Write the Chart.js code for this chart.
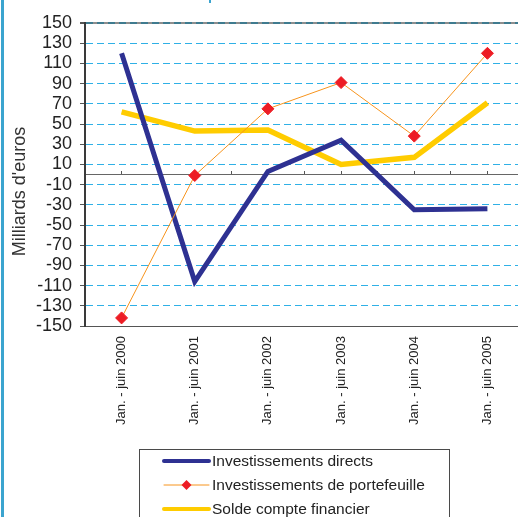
<!DOCTYPE html>
<html lang="fr">
<head>
<meta charset="utf-8">
<title>Investissements et solde du compte financier</title>
<script src="https://cdn.jsdelivr.net/npm/chart.js@4/dist/chart.umd.min.js"></script>
<style>
  html, body { margin: 0; padding: 0; background: #fff; overflow: hidden; }
  #wrap { position: relative; width: 518px; height: 517px; overflow: hidden; }
  #c { position: absolute; left: 0; top: 0; }
  .edge { position: absolute; left: 1px; top: 0; width: 3px; height: 517px; background: #3ba4cf; }
  .mark { position: absolute; left: 209px; top: 0; width: 2px; height: 3px; background: #3ba4cf; }
</style>
</head>
<body>
<div id="wrap">
  <canvas id="c" width="531" height="517"></canvas>
  <div class="edge"></div>
  <div class="mark"></div>
</div>
<script>
// Semesters shown on the horizontal axis
const categories = [
  'Jan. - juin 2000', 'Jan. - juin 2001', 'Jan. - juin 2002',
  'Jan. - juin 2003', 'Jan. - juin 2004', 'Jan. - juin 2005'
];

// Flows in billions of euros
const investissementsDirects = [120, -106, 3, 34, -35, -34];
const investissementsPortefeuille = [-142, -1, 65, 91, 38, 120];
const soldeCompteFinancier = [62, 43, 44, 10, 17, 71];

const seriesNames = [
  'Investissements directs',
  'Investissements de portefeuille',
  'Solde compte financier'
];

// Value axis range and tick step
const yMin = -150;
const yMax = 150;
const yStep = 20;
const yTitle = "Milliards d'euros";

const FONT = "'Liberation Sans', Arial, sans-serif";

// Solid grey rule along the top of the plot, under the dashed grid line
const topRule = {
  id: 'topRule',
  beforeDraw(chart) {
    const { ctx, chartArea } = chart;
    ctx.save();
    ctx.strokeStyle = '#8e8e8e';
    ctx.lineWidth = 2;
    ctx.beginPath();
    ctx.moveTo(chartArea.left, chartArea.top);
    ctx.lineTo(chartArea.right, chartArea.top);
    ctx.stroke();
    ctx.restore();
  }
};

// Rotated caption for the value axis
const valueCaption = {
  id: 'valueCaption',
  afterDraw(chart, args, opts) {
    const { ctx, chartArea } = chart;
    ctx.save();
    ctx.translate(opts.x, (chartArea.top + chartArea.bottom) / 2 + opts.shift);
    ctx.rotate(-Math.PI / 2);
    ctx.font = `18px ${FONT}`;
    ctx.fillStyle = '#333';
    ctx.textAlign = 'center';
    ctx.textBaseline = 'middle';
    ctx.fillText(opts.text, 0, 0);
    ctx.restore();
  }
};

// Framed legend listing the series one per row
const boxLegend = {
  id: 'boxLegend',
  afterDraw(chart, args, o) {
    const { ctx } = chart;
    ctx.save();
    ctx.strokeStyle = '#4a4a4a';
    ctx.lineWidth = 1;
    ctx.strokeRect(o.left + 0.5, o.top + 0.5, o.width, o.height);
    chart.data.datasets.forEach((ds, i) => {
      const y = o.firstRow + i * o.rowGap;
      ctx.strokeStyle = ds.borderColor;
      ctx.lineWidth = ds.legendWidth;
      ctx.lineCap = 'round';
      ctx.beginPath();
      ctx.moveTo(o.sampleFrom, y);
      ctx.lineTo(o.sampleTo, y);
      ctx.stroke();
      if (ds.pointRadius > 0) {
        const cx = (o.sampleFrom + o.sampleTo) / 2;
        const r = ds.pointRadius - 1;
        ctx.fillStyle = ds.pointBackgroundColor;
        ctx.beginPath();
        ctx.moveTo(cx, y - r);
        ctx.lineTo(cx + r, y);
        ctx.lineTo(cx, y + r);
        ctx.lineTo(cx - r, y);
        ctx.closePath();
        ctx.fill();
      }
      ctx.fillStyle = '#222';
      ctx.font = `15.5px ${FONT}`;
      ctx.textAlign = 'left';
      ctx.textBaseline = 'middle';
      ctx.fillText(ds.label, o.textX, y + 1);
    });
    ctx.restore();
  }
};

new Chart(document.getElementById('c'), {
  type: 'line',
  data: {
    labels: categories,
    datasets: [
      {
        label: seriesNames[0],
        data: investissementsDirects,
        borderColor: '#2e3192',
        borderWidth: 5,
        legendWidth: 4,
        pointRadius: 0,
        order: 1
      },
      {
        label: seriesNames[1],
        data: investissementsPortefeuille,
        borderColor: '#f7941d',
        borderWidth: 1,
        legendWidth: 1,
        pointStyle: 'rectRot',
        pointRadius: 6,
        pointBorderWidth: 1,
        pointBackgroundColor: '#ed1c24',
        pointBorderColor: '#ed1c24',
        order: 0
      },
      {
        label: seriesNames[2],
        data: soldeCompteFinancier,
        borderColor: '#ffcc00',
        borderWidth: 5.5,
        legendWidth: 4,
        pointRadius: 0,
        order: 2
      }
    ]
  },
  options: {
    responsive: false,
    animation: false,
    devicePixelRatio: 1,
    layout: { padding: { top: 23, right: 1, bottom: 91, left: 0 } },
    plugins: {
      legend: { display: false },
      tooltip: { enabled: false },
      valueCaption: { text: yTitle, x: 20, shift: 17 },
      boxLegend: {
        left: 139, top: 449, width: 310, height: 90,
        firstRow: 461, rowGap: 24,
        sampleFrom: 164, sampleTo: 209, textX: 212
      }
    },
    scales: {
      x: {
        type: 'category',
        offset: true,
        grid: { display: false, drawTicks: false },
        border: { display: true, color: '#555', width: 1 },
        ticks: {
          autoSkip: false,
          minRotation: 90,
          maxRotation: 90,
          padding: 10,
          color: '#222',
          font: { family: FONT, size: 13 }
        },
        afterFit(scale) { scale.height = 100; }
      },
      xz: {
        axis: 'x',
        type: 'linear',
        min: -0.5,
        max: 5.5,
        position: { y: 0 },
        ticks: { display: false, stepSize: 0.5 },
        grid: { drawOnChartArea: false, drawTicks: true, tickLength: -4, color: '#555' },
        border: { display: true, color: '#666', width: 1 }
      },
      y: {
        min: yMin,
        max: yMax,
        ticks: {
          stepSize: yStep,
          autoSkip: false,
          padding: 8,
          color: '#222',
          font: { family: FONT, size: 18, lineHeight: 1 }
        },
        grid: {
          color: (c) => c.tick && c.tick.value === yMax ? '#3f7b8f'
                     : c.tick && c.tick.value === yMin ? 'rgba(0,0,0,0)' : '#2fb0e6',
          lineWidth: (c) => c.tick && c.tick.value === yMax ? 2 : 1,
          tickColor: '#555',
          tickLength: 5,
          tickBorderDash: []
        },
        border: { display: true, color: '#3a3a3a', width: 2, dash: [7, 4] },
        afterFit(scale) { scale.width = 85; }
      }
    }
  },
  plugins: [topRule, valueCaption, boxLegend]
});
</script>
</body>
</html>
